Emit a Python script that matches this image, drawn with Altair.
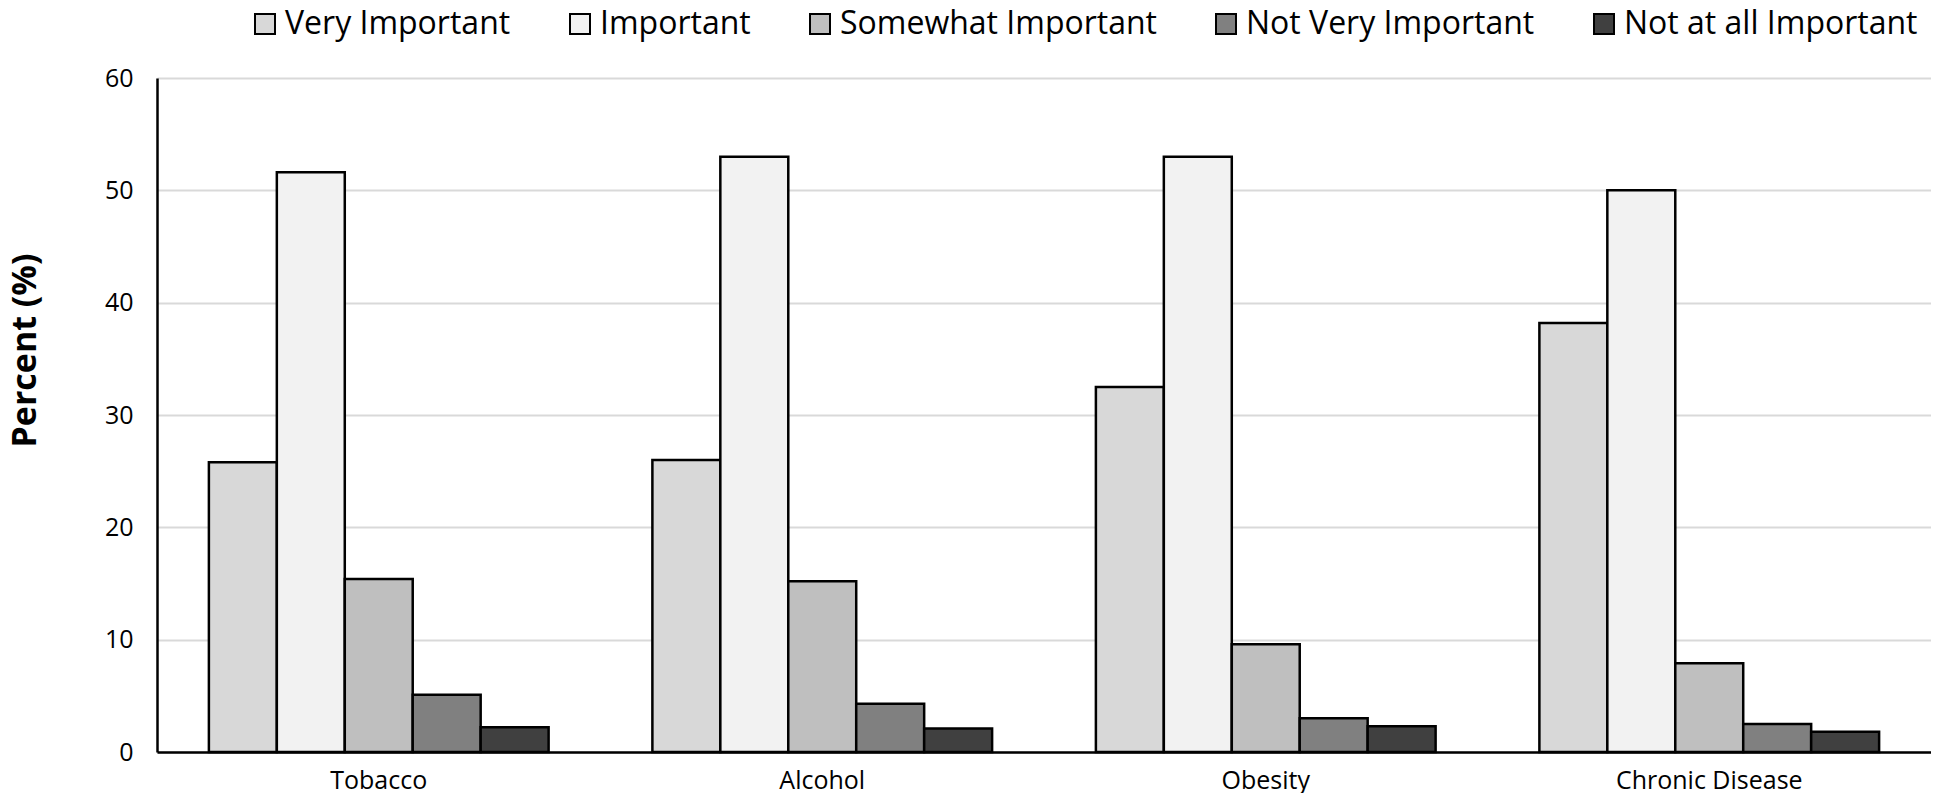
import altair as alt
import pandas as pd

categories = ["Tobacco", "Alcohol", "Obesity", "Chronic Disease"]
levels = ["Very Important", "Important", "Somewhat Important", "Not Very Important", "Not at all Important"]
very_important = [25.8, 26.0, 32.5, 38.2]
important = [51.6, 53.0, 53.0, 50.0]
somewhat_important = [15.4, 15.2, 9.6, 7.9]
not_very_important = [5.1, 4.3, 3.0, 2.5]
not_at_all_important = [2.2, 2.1, 2.3, 1.8]
colors = ["#d8d8d8", "#f2f2f2", "#bfbfbf", "#808080", "#404040"]

series = [very_important, important, somewhat_important, not_very_important, not_at_all_important]
rows = []
for lvl, vals in zip(levels, series):
    for cat, v in zip(categories, vals):
        rows.append({"category": cat, "level": lvl, "value": v})
df = pd.DataFrame(rows)

FONT = "Open Sans"

chart = alt.Chart(df).mark_bar(stroke="black", strokeWidth=2.5).encode(
    x=alt.X("category:N", sort=categories, title=None,
            scale=alt.Scale(paddingInner=0.234, paddingOuter=0.117),
            axis=alt.Axis(labelAngle=0, ticks=False, domainColor="black", domainWidth=2.5,
                          labelFont=FONT, labelFontSize=25, labelColor="black", labelPadding=16,
                          labelLimit=500, grid=False)),
    xOffset=alt.XOffset("level:N", sort=levels, scale=alt.Scale(paddingInner=0, paddingOuter=0)),
    y=alt.Y("value:Q", title="Percent (%)",
            scale=alt.Scale(domain=[0, 60], nice=False),
            axis=alt.Axis(values=[0, 10, 20, 30, 40, 50, 60], ticks=False, domainColor="black", domainWidth=2.5,
                          gridColor="#d9d9d9", gridWidth=2, labelFont=FONT, labelFontSize=25,
                          labelColor="black", labelPadding=24, titleFont=FONT, titleFontSize=34,
                          titleFontWeight="bold", titleColor="black", titlePadding=62, titleY=272)),
    fill=alt.Fill("level:N", sort=levels, title=None,
                  scale=alt.Scale(domain=levels, range=colors),
                  legend=alt.Legend(orient="none", direction="horizontal", legendX=92, legendY=-70,
                                    symbolType="square", symbolSize=400, symbolStrokeColor="black",
                                    symbolStrokeWidth=2, labelFont=FONT, labelFontSize=32, labelColor="black",
                                    labelOffset=4, columnPadding=53, labelLimit=500)),
).properties(width=1774, height=674, padding={"left": 0, "top": 0, "right": 0, "bottom": 0}).configure_view(stroke=None)

chart.save("out.html", embed_options={"renderer": "svg", "actions": False})
